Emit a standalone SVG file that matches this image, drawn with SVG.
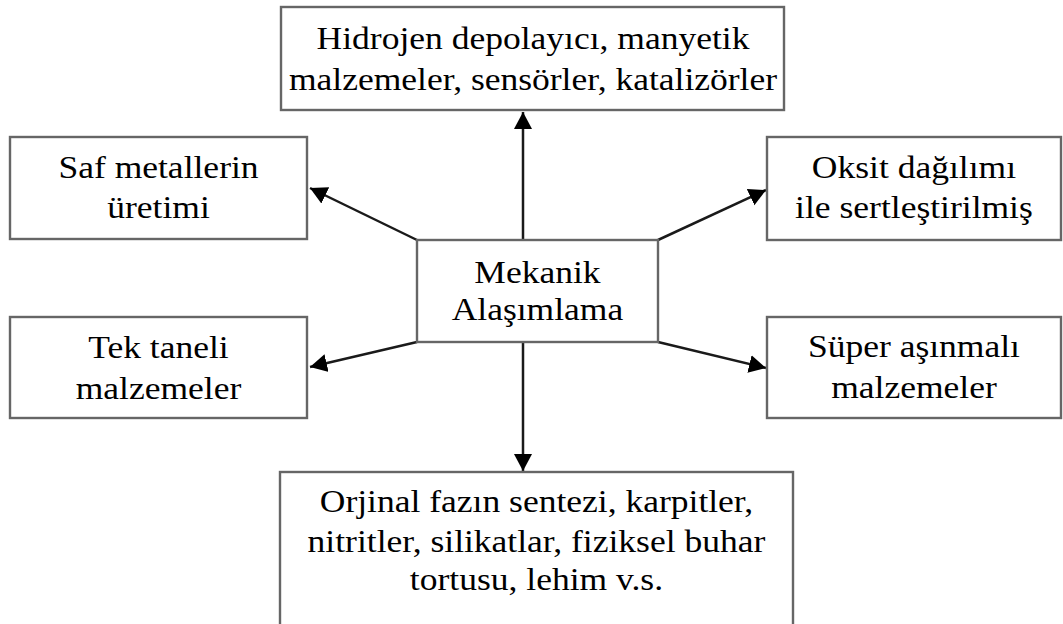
<svg xmlns="http://www.w3.org/2000/svg" width="1063" height="624" viewBox="0 0 1063 624">
  <style>
    .box { fill: #ffffff; stroke: #666666; stroke-width: 2.4; }
    .lbl { font-family: "Liberation Serif", "Times New Roman", serif; font-size: 32px; fill: #000000; text-anchor: middle; }
    .conn { stroke: #1a1a1a; stroke-width: 2.5; fill: none; marker-end: url(#arrow); }
  </style>
  <defs>
    <marker id="arrow" markerUnits="userSpaceOnUse" markerWidth="20" markerHeight="20" refX="17" refY="9" orient="auto">
      <path d="M0,0 L17,9 L0,18 Z" fill="#000000"/>
    </marker>
  </defs>
  <rect width="1063" height="624" fill="#ffffff"/>

  <!-- connectors from the central node -->
  <g id="connectors">
    <line class="conn" x1="523" y1="240" x2="523" y2="112"/>
    <line class="conn" x1="523" y1="342" x2="523" y2="471"/>
    <line class="conn" x1="417" y1="240" x2="310" y2="188"/>
    <line class="conn" x1="658" y1="240" x2="766" y2="190"/>
    <line class="conn" x1="417" y1="342" x2="310" y2="367"/>
    <line class="conn" x1="658" y1="342" x2="766" y2="368"/>
  </g>

  <!-- text is widened slightly: x values are divided by 1.11 -->
  <g id="center">
    <rect class="box" x="417" y="240" width="241" height="102"/>
    <text class="lbl" transform="scale(1.11 1)" x="484.2" y="283">Mekanik</text>
    <text class="lbl" transform="scale(1.11 1)" x="484.2" y="320">Alaşımlama</text>
  </g>

  <g id="top">
    <rect class="box" x="281" y="7" width="503" height="103"/>
    <text class="lbl" transform="scale(1.11 1)" x="480.2" y="49">Hidrojen depolayıcı, manyetik</text>
    <text class="lbl" transform="scale(1.11 1)" x="480.2" y="90">malzemeler, sensörler, katalizörler</text>
  </g>

  <g id="upper-left">
    <rect class="box" x="10" y="137" width="297" height="102"/>
    <text class="lbl" transform="scale(1.11 1)" x="142.8" y="178">Saf metallerin</text>
    <text class="lbl" transform="scale(1.11 1)" x="142.8" y="218">üretimi</text>
  </g>

  <g id="upper-right">
    <rect class="box" x="767" y="137" width="294" height="103"/>
    <text class="lbl" transform="scale(1.11 1)" x="823.4" y="178">Oksit dağılımı</text>
    <text class="lbl" transform="scale(1.11 1)" x="823.4" y="218">ile sertleştirilmiş</text>
  </g>

  <g id="lower-left">
    <rect class="box" x="10" y="317" width="297" height="101"/>
    <text class="lbl" transform="scale(1.11 1)" x="142.8" y="358">Tek taneli</text>
    <text class="lbl" transform="scale(1.11 1)" x="142.8" y="399">malzemeler</text>
  </g>

  <g id="lower-right">
    <rect class="box" x="767" y="317" width="294" height="101"/>
    <text class="lbl" transform="scale(1.11 1)" x="823.4" y="357">Süper aşınmalı</text>
    <text class="lbl" transform="scale(1.11 1)" x="823.4" y="398">malzemeler</text>
  </g>

  <g id="bottom">
    <rect class="box" x="280" y="472" width="513" height="200"/>
    <text class="lbl" transform="scale(1.11 1)" x="483.3" y="512">Orjinal fazın sentezi, karpitler,</text>
    <text class="lbl" transform="scale(1.11 1)" x="483.3" y="552">nitritler, silikatlar, fiziksel buhar</text>
    <text class="lbl" transform="scale(1.11 1)" x="483.3" y="590">tortusu, lehim v.s.</text>
  </g>
</svg>
